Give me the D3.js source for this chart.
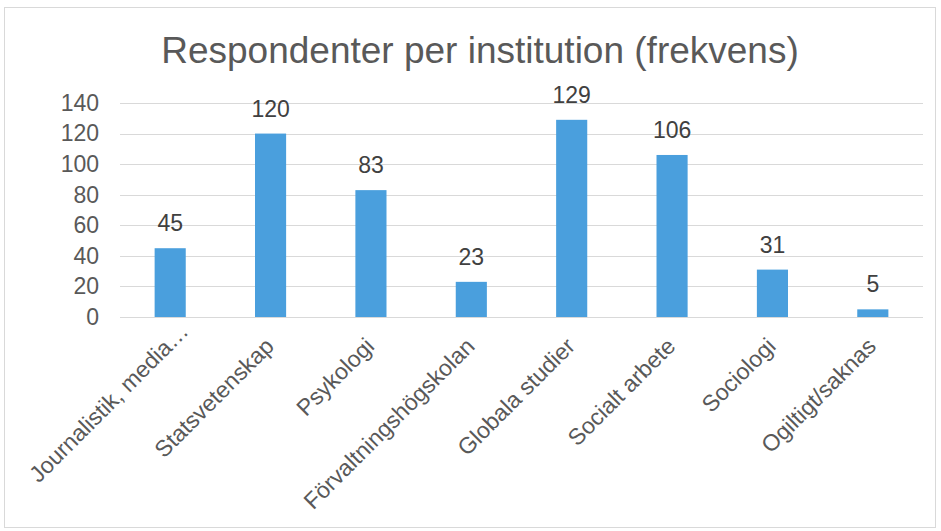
<!DOCTYPE html>
<html>
<head>
<meta charset="utf-8">
<script src="https://cdn.jsdelivr.net/npm/d3@7"></script>
<style>
  body { margin: 0; background: #fff; }
  svg { font-family: "Liberation Sans", Arial, sans-serif; }
</style>
</head>
<body>
<svg width="941" height="531"></svg>
<script>
"use strict"

var categories = ["Journalistik, media…", "Statsvetenskap", "Psykologi", "Förvaltningshögskolan",
                  "Globala studier", "Socialt arbete", "Sociologi", "Ogiltigt/saknas"];
var counts = [45, 120, 83, 23, 129, 106, 31, 5];
var yTicks = [0, 20, 40, 60, 80, 100, 120, 140];

var svg = d3.select("svg");

// chart frame
svg.append("rect")
    .attr("x", 4.5).attr("y", 7.5)
    .attr("width", 931).attr("height", 520)
    .attr("fill", "white").attr("stroke", "#d9d9d9");

svg.append("text")
    .attr("x", 480).attr("y", 63)
    .attr("text-anchor", "middle")
    .attr("fill", "#595959")
    .style("font-size", "37px")
    .text("Respondenter per institution (frekvens)");

var x = d3.scaleBand().domain(categories).range([120, 923]).paddingInner(0.69).paddingOuter(0.345);
var y = d3.scaleLinear().domain([0, 140]).range([317, 103]);

// gridlines
svg.append("g").selectAll("line")
    .data(yTicks)
    .join("line")
    .attr("x1", 120).attr("x2", 923)
    .attr("y1", function(d) { return Math.round(y(d)) + 0.5; })
    .attr("y2", function(d) { return Math.round(y(d)) + 0.5; })
    .attr("stroke", "#d9d9d9").attr("stroke-width", 1.2);

// y tick labels
var yAxis = svg.append("g")
    .attr("transform", "translate(99,0)")
    .call(d3.axisLeft(y).tickValues(yTicks).tickSize(0).tickPadding(0));
yAxis.select(".domain").remove();
yAxis.selectAll("text")
    .attr("fill", "#595959")
    .style("font-size", "23px")
    .style("font-family", "Liberation Sans, Arial, sans-serif");

// bars
svg.append("g").selectAll("rect")
    .data(counts)
    .join("rect")
    .attr("x", function(d, i) { return x(categories[i]); })
    .attr("width", x.bandwidth())
    .attr("y", function(d) { return y(d); })
    .attr("height", function(d) { return y(0) - y(d); })
    .attr("fill", "#4a9fdd");

// value labels
svg.append("g").selectAll("text")
    .data(counts)
    .join("text")
    .attr("x", function(d, i) { return x(categories[i]) + x.bandwidth() / 2; })
    .attr("y", function(d) { return y(d) - 17; })
    .attr("text-anchor", "middle")
    .attr("fill", "#404040")
    .style("font-size", "23px")
    .text(function(d) { return d; });

// category labels, rotated (truncated ones sit a bit further along, like Excel)
svg.append("g").selectAll("text")
    .data(categories)
    .join("text")
    .attr("transform", function(d) {
        return "translate(" + (x(d) + x.bandwidth() / 2 - 1) + ",342) rotate(-45)";
    })
    .attr("text-anchor", "end")
    .attr("dx", function(d) { return d.slice(-1) === "…" ? 21 : 0; })
    .attr("dy", "0.35em")
    .attr("fill", "#595959")
    .style("font-size", "23px")
    .text(function(d) { return d; });
</script>
</body>
</html>
